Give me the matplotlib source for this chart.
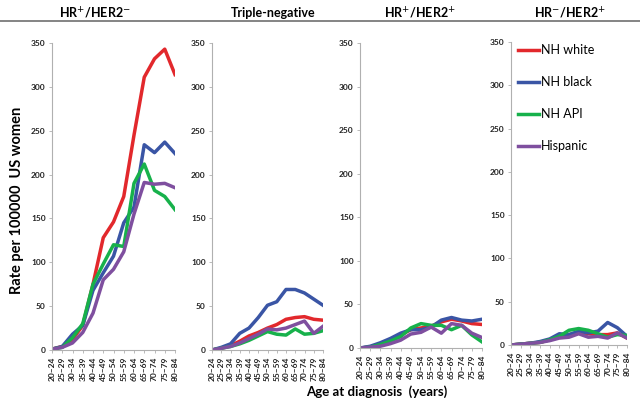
import numpy as np
import matplotlib
matplotlib.use('Agg')
import matplotlib.pyplot as plt
from matplotlib.lines import Line2D

plt.rcParams['font.family'] = ['Lato', 'DejaVu Sans']

ages = ['20–24', '25–29', '30–34', '35–39', '40–44', '45–49', '50–54',
        '55–59', '60–64', '65–69', '70–74', '75–79', '80–84']
groups = ['NH white', 'NH black', 'NH API', 'Hispanic']
colors = ['#e2282c', '#3a55a5', '#17b14b', '#7f4f9f']
titles = ['HR$^{+}$/HER2$^{-}$', 'Triple-negative', 'HR$^{+}$/HER2$^{+}$', 'HR$^{-}$/HER2$^{+}$']

# HR+/HER2-
p1_white = [1, 4, 12, 28, 75, 128, 146, 175, 245, 311, 332, 343, 314]
p1_black = [1, 4, 18, 28, 68, 88, 107, 145, 163, 234, 225, 237, 224]
p1_api = [1, 3, 14, 30, 75, 98, 120, 118, 190, 212, 182, 175, 160]
p1_hisp = [1, 3, 8, 20, 42, 80, 92, 112, 155, 191, 189, 190, 185]

# Triple-negative
p2_white = [0, 2, 5, 10, 16, 20, 25, 29, 35, 37, 38, 35, 34]
p2_black = [0, 3, 7, 19, 25, 37, 51, 55, 69, 69, 65, 58, 51]
p2_api = [0, 2, 4, 7, 11, 16, 21, 18, 17, 24, 18, 19, 22]
p2_hisp = [0, 2, 4, 8, 13, 18, 24, 23, 25, 29, 33, 19, 27]

# HR+/HER2+
p3_white = [0, 1, 4, 9, 15, 21, 23, 25, 30, 33, 31, 28, 27]
p3_black = [0, 2, 6, 11, 17, 21, 21, 24, 32, 35, 32, 31, 33]
p3_api = [0, 1, 4, 8, 13, 23, 28, 26, 26, 21, 26, 15, 7]
p3_hisp = [0, 1, 2, 5, 9, 16, 18, 24, 17, 28, 26, 17, 12]

# HR-/HER2+
p4_white = [0, 1, 2, 3, 6, 9, 12, 14, 13, 12, 12, 14, 8]
p4_black = [0, 1, 2, 4, 7, 13, 12, 16, 14, 16, 26, 20, 10]
p4_api = [0, 1, 2, 3, 6, 10, 17, 19, 17, 13, 9, 12, 11]
p4_hisp = [0, 1, 2, 3, 5, 8, 9, 13, 9, 10, 8, 14, 8]

panels = [
    [p1_white, p1_black, p1_api, p1_hisp],
    [p2_white, p2_black, p2_api, p2_hisp],
    [p3_white, p3_black, p3_api, p3_hisp],
    [p4_white, p4_black, p4_api, p4_hisp],
]

W, H = 640, 411
fig = plt.figure(figsize=(W / 100, H / 100), dpi=100)

# pixel boxes: left, right, top, bottom
boxes = [(52, 175, 43, 350), (212, 323, 43, 350), (360, 482, 43, 348), (511, 627, 42, 345)]
title_x = [95, 273, 420, 570]

x = np.arange(len(ages))
axes = []
for i, (l, r, t, b) in enumerate(boxes):
    ax = fig.add_axes([l / W, 1 - b / H, (r - l) / W, (b - t) / H])
    for s, c in zip(panels[i], colors):
        ax.plot(x, s, color=c, lw=2.5, solid_joinstyle='round')
    ax.set_xlim(0, 12)
    ax.set_ylim(0, 350)
    ax.set_yticks(range(0, 351, 50))
    ax.set_xticks(x)
    ax.set_xticklabels(ages, rotation=90, fontsize=6, fontweight='bold')
    for lab in ax.get_yticklabels():
        lab.set_fontsize(6)
        lab.set_fontweight('bold')
    ax.spines['top'].set_visible(False)
    ax.spines['right'].set_visible(False)
    for sp in ['left', 'bottom']:
        ax.spines[sp].set_color('#b0b0b0')
        ax.spines[sp].set_linewidth(0.8)
    ax.tick_params(colors='#b0b0b0', length=2.5, width=0.6, labelcolor='#222222', pad=2)
    ax.patch.set_alpha(0)
    fig.text(title_x[i] / W, 1 - 13 / H, titles[i], ha='center', va='center',
             fontsize=9, fontweight='bold')
    axes.append(ax)

handles = [Line2D([], [], color=c, lw=2.5) for c in colors]
axes[3].legend(handles, groups, loc='upper left', bbox_to_anchor=(0.04, 1.0),
               frameon=False, fontsize=9, handlelength=1.7, handletextpad=0.1,
               labelspacing=1.6, borderaxespad=0, borderpad=0.2)

fig.add_artist(Line2D([0, 1], [1 - 21 / H, 1 - 21 / H], color='#707070', lw=1.2))

fig.text(17 / W, 1 - 200 / H, 'Rate per 100000  US women', rotation=90,
         ha='center', va='center', fontsize=10.5, fontweight='bold')
fig.text(377 / W, 1 - 392 / H, 'Age at diagnosis  (years)', ha='center', va='center',
         fontsize=9.5, fontweight='bold')

fig.savefig('out.png', dpi=100)
